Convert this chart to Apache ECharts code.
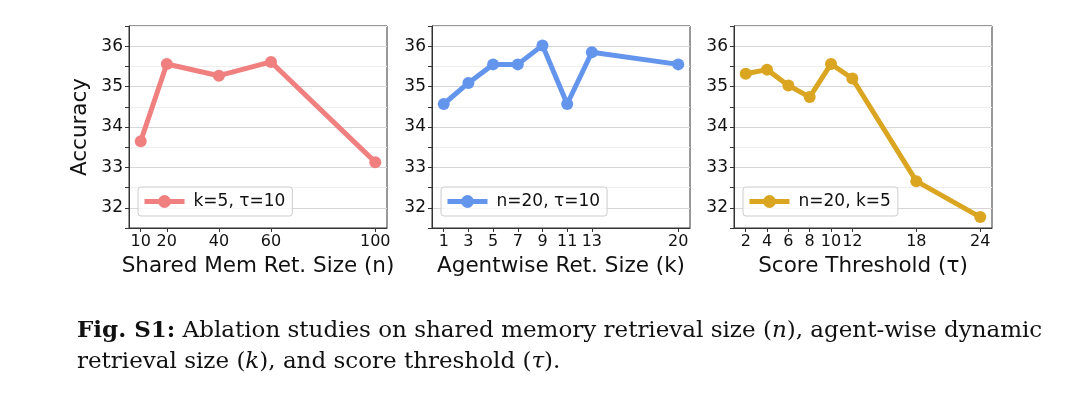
<!DOCTYPE html>
<html>
<head>
<meta charset="utf-8">
<script src="https://cdn.jsdelivr.net/npm/echarts@6/dist/echarts.min.js"></script>
<style>
  html, body { margin: 0; padding: 0; background: #fff; }
  #chart { width: 1068px; height: 393px; }
</style>
</head>
<body>
<div id="chart"></div>
<script>
// data
const sharedMemSizes = [10, 20, 40, 60, 100];
const sharedMemAcc = [33.65, 35.56, 35.27, 35.61, 33.13];

const agentwiseSizes = [1, 3, 5, 7, 9, 11, 13, 20];
const agentwiseAcc = [34.57, 35.09, 35.55, 35.55, 36.02, 34.57, 35.85, 35.55];

const thresholds = [2, 4, 6, 8, 10, 12, 18, 24];
const thresholdAcc = [35.32, 35.42, 35.03, 34.74, 35.56, 35.2, 32.66, 31.77];

const seriesNames = ['k=5, τ=10', 'n=20, τ=10', 'n=20, k=5'];
const xNames = ['Shared Mem Ret. Size (n)', 'Agentwise Ret. Size (k)', 'Score Threshold (τ)'];
const colors = ['#F08080', '#6495ED', '#DAA520'];

const chart = echarts.init(document.getElementById('chart'));

const panels = [
  { x: sharedMemSizes, y: sharedMemAcc, left: 129 },
  { x: agentwiseSizes, y: agentwiseAcc, left: 432 },
  { x: thresholds, y: thresholdAcc, left: 734 }
];
const plotW = 258, plotTop = 26, plotH = 202;
const font = 'DejaVu Sans';

const grids = [], xAxes = [], yAxes = [], series = [], legends = [];

panels.forEach((p, i) => {
  const lo = Math.min(...p.x), hi = Math.max(...p.x);
  const pad = (hi - lo) * 0.05;

  grids.push({
    left: p.left, top: plotTop, width: plotW, height: plotH,
    show: true, borderColor: '#333', borderWidth: 1, backgroundColor: 'transparent'
  });

  xAxes.push({
    type: 'value', gridIndex: i, min: lo - pad, max: hi + pad,
    name: xNames[i], nameLocation: 'middle', nameGap: 27,
    nameTextStyle: { fontFamily: font, fontSize: 21.5, color: '#111' },
    axisLine: { show: true, onZero: false, lineStyle: { color: '#333' } },
    axisTick: { show: true, length: 4, customValues: p.x, lineStyle: { color: '#333' } },
    axisLabel: { customValues: p.x, fontFamily: font, fontSize: 16, color: '#111', margin: 6 },
    splitLine: { show: false }
  });

  yAxes.push({
    type: 'value', gridIndex: i, min: 31.5, max: 36.5, interval: 0.5,
    name: i === 0 ? 'Accuracy' : '', nameLocation: 'middle', nameGap: 38,
    nameTextStyle: { fontFamily: font, fontSize: 21.5, color: '#111' },
    axisLine: { show: true, lineStyle: { color: '#333' } },
    axisTick: { show: true, length: 4, lineStyle: { color: '#333' } },
    axisLabel: {
      fontFamily: font, fontSize: 17, color: '#111', margin: 6,
      formatter: v => (Math.abs(v - Math.round(v)) < 1e-6 ? String(Math.round(v)) : '')
    },
    splitLine: { show: true, lineStyle: { color: ['#eeeeee', '#d6d6d6'], width: 1 } }
  });

  series.push({
    name: seriesNames[i], type: 'line', xAxisIndex: i, yAxisIndex: i,
    data: p.x.map((v, j) => [v, p.y[j]]),
    symbol: 'circle', symbolSize: 12,
    lineStyle: { color: colors[i], width: 5 },
    itemStyle: { color: colors[i] },
    animation: false
  });

  legends.push({
    data: [seriesNames[i]],
    left: p.left + 9, top: 187,
    orient: 'horizontal',
    itemWidth: 40, itemHeight: 16, itemGap: 0,
    padding: [6, 7, 6, 4],
    borderColor: '#cccccc', borderWidth: 1, borderRadius: 3,
    backgroundColor: 'rgba(255,255,255,0.8)',
    lineStyle: { width: 5, color: colors[i] },
    itemStyle: { color: colors[i] },
    textStyle: { fontFamily: font, fontSize: 17, color: '#111', padding: [0, 0, 0, 4] }
  });
});

const captionFont = 'DejaVu Serif';
const captionSize = 23;

chart.setOption({
  animation: false,
  grid: grids,
  xAxis: xAxes,
  yAxis: yAxes,
  legend: legends,
  series: series,
  graphic: [
    {
      type: 'text', left: 77, top: 320,
      style: {
        text: '{b|Fig. S1:} Ablation studies on shared memory retrieval size ({i|n}), agent-wise dynamic',
        fontFamily: captionFont, fontSize: captionSize, fill: '#111',
        rich: {
          b: { fontFamily: captionFont, fontSize: captionSize, fontWeight: 'bold', fill: '#111' },
          i: { fontFamily: captionFont, fontSize: captionSize, fontStyle: 'italic', fill: '#111' }
        }
      }
    },
    {
      type: 'text', left: 77, top: 351,
      style: {
        text: 'retrieval size ({i|k}), and score threshold ({i|τ}).',
        fontFamily: captionFont, fontSize: captionSize, fill: '#111',
        rich: {
          i: { fontFamily: captionFont, fontSize: captionSize, fontStyle: 'italic', fill: '#111' }
        }
      }
    }
  ]
});
</script>
</body>
</html>
